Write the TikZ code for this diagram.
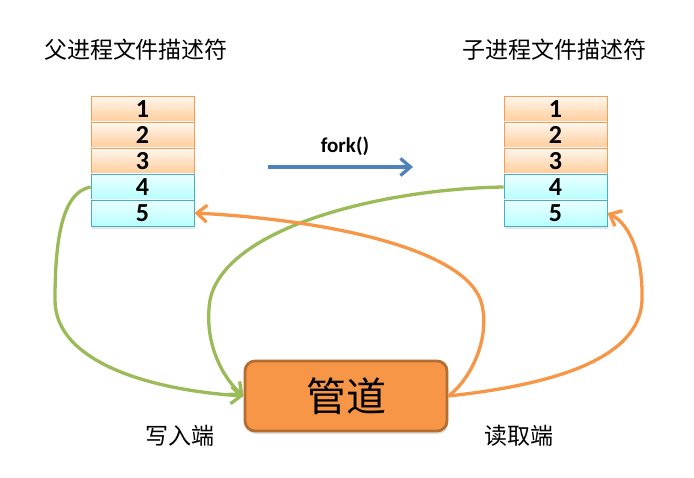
\documentclass[tikz,border=0pt]{standalone}
\usepackage{fontspec}
\setmainfont{Carlito}
\newfontfamily\cjk{Noto Sans CJK SC}
\usetikzlibrary{arrows.meta,shadows}
\definecolor{pipeorange}{HTML}{F79646}
\definecolor{pipeedge}{HTML}{B66D31}
\definecolor{cellorange}{HTML}{F59D56}
\definecolor{cellblue}{HTML}{4BACC6}
\definecolor{linegreen}{HTML}{9BBB59}
\definecolor{forkblue}{HTML}{4F81BD}
\tikzset{
  ocell/.style={draw=cellorange,line width=0.8pt,minimum width=103pt,minimum height=26pt,
    top color=orange!6,bottom color=orange!40,inner sep=0pt,font=\bfseries\fontsize{26}{26}\selectfont},
  bcell/.style={draw=cellblue,line width=0.8pt,minimum width=103pt,minimum height=26pt,
    top color=cyan!8,bottom color=cyan!28,inner sep=0pt,font=\bfseries\fontsize{26}{26}\selectfont},
  title/.style={font=\cjk\fontsize{23}{23}\selectfont},
  wire/.style={line width=3.3pt,-{Straight Barb[length=10pt,width=17pt,line width=3.3pt]}},
}
\begin{document}
\begin{tikzpicture}[x=1pt,y=-1pt]
	\useasboundingbox (0,0) rectangle (694,478);
	% titles
	\node[title] (ptitle) at (136,50) {父进程文件描述符};
	\node[title] (ctitle) at (554,50) {子进程文件描述符};
	% shadows under the tables
	\fill[black!18,drop shadow={opacity=0.2,shadow xshift=1pt,shadow yshift=-2.5pt}] (91,96) rectangle (194,227);
	\fill[black!18,drop shadow={opacity=0.2,shadow xshift=1pt,shadow yshift=-2.5pt}] (504,96) rectangle (607,227);
	% parent table
	\node[ocell] (p1) at (142.5,109) {1};
	\node[ocell] (p2) at (142.5,135) {2};
	\node[ocell] (p3) at (142.5,161) {3};
	\node[bcell] (p4) at (142.5,187) {4};
	\node[bcell] (p5) at (142.5,213) {5};
	% child table
	\node[ocell] (c1) at (555.5,109) {1};
	\node[ocell] (c2) at (555.5,135) {2};
	\node[ocell] (c3) at (555.5,161) {3};
	\node[bcell] (c4) at (555.5,187) {4};
	\node[bcell] (c5) at (555.5,213) {5};
	% fork
	\coordinate (forkL) at (268,167);
	\coordinate (forkR) at (413,167);
	\node[font=\bfseries\fontsize{21}{21}\selectfont] (fork) at (345,146) {fork()};
	\draw[wire,draw=forkblue] (forkL) -- (forkR);
	% pipe
	\node[draw=pipeedge,line width=2.8pt,fill=pipeorange,rounded corners=10pt,minimum width=202pt,minimum height=70pt,
	      drop shadow={opacity=0.25,shadow xshift=1pt,shadow yshift=-3pt},font=\cjk\fontsize{40}{40}\selectfont] (pipe) at (346,396) {管道};
	\node[title] (wend) at (180,436) {写入端};
	\node[title] (rend) at (519,436) {读取端};
	% write ends
	\draw[wire,draw=linegreen] (p4.west) .. controls (62,192) and (55,240) .. (55,300) .. controls (55,362) and (150,390) .. (pipe.west);
	\draw[wire,draw=linegreen] (c4.west) .. controls (380,189) and (225,228) .. (210,300) .. controls (203,345) and (225,380) .. (pipe.west);
	% read ends
	\draw[wire,draw=pipeorange] (pipe.east) .. controls (470,380) and (490,340) .. (482,305) .. controls (470,250) and (330,220) .. (p5.east);
	\draw[wire,draw=pipeorange] (pipe.east) .. controls (550,385) and (640,360) .. (642,300) .. controls (643,260) and (632,225) .. (c5.east);
\end{tikzpicture}
\end{document}
